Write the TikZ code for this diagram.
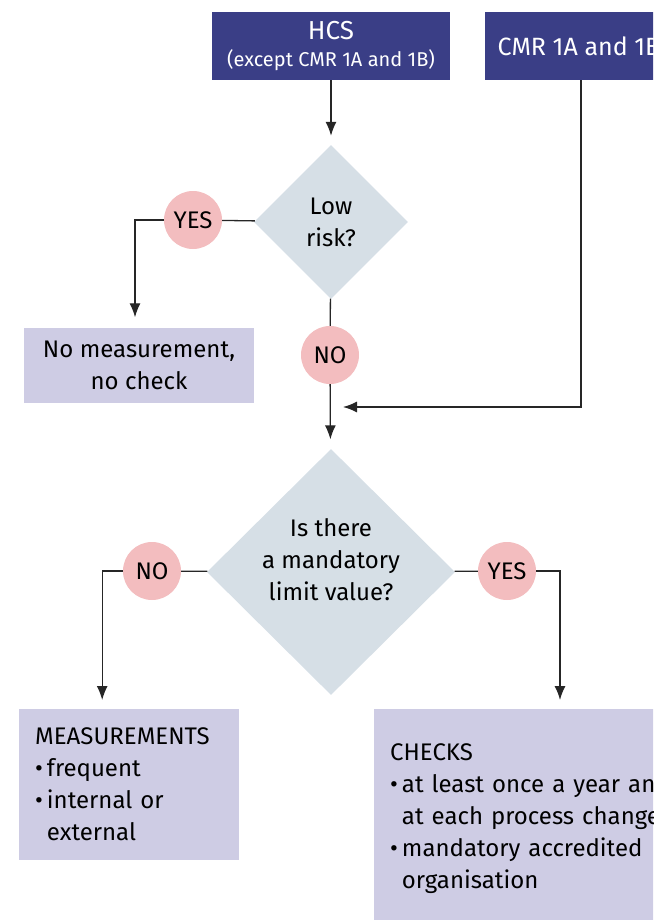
\documentclass[tikz,border=0pt]{standalone}
\usepackage{fontspec}
\setmainfont{Fira Sans}
\usetikzlibrary{shapes.geometric,arrows.meta}
\definecolor{hcsblue}{HTML}{3A3E86}
\definecolor{boxlilac}{HTML}{CECCE4}
\definecolor{decgrey}{HTML}{D6DFE6}
\definecolor{answerpink}{HTML}{F3BDBF}
\tikzset{
  topbox/.style={rectangle, fill=hcsblue, text=white, inner sep=0pt, align=center},
  resultbox/.style={rectangle, fill=boxlilac, inner sep=0pt, font=\fontsize{24}{32}\selectfont},
  decision/.style={diamond, fill=decgrey, inner sep=0pt, align=center, font=\fontsize{24}{32}\selectfont},
  answer/.style={circle, fill=answerpink, minimum size=58pt, inner sep=0pt, font=\fontsize{24}{26}\selectfont},
  flow/.style={line width=1.3pt, draw=black!85},
  flowarrow/.style={flow, -{Latex[length=14pt,width=11pt]}},
}
\begin{document}
\begin{tikzpicture}[x=1pt, y=-1pt]
  \clip (0,0) rectangle (653,920);
  % Nodes
  \node (HCS) [topbox, minimum width=238pt, minimum height=68pt, font=\fontsize{20}{27}\selectfont] at (331,46)
    {{\fontsize{26}{27}\selectfont HCS}\\(except CMR 1A and 1B)};
  \node (CMR) [topbox, minimum width=188pt, minimum height=68pt, font=\fontsize{25}{28}\selectfont] at (579,46) {CMR 1A and 1B};
  \node (lowrisk) [decision, minimum width=154pt, minimum height=154pt] at (331,222) {Low\\risk?};
  \node (yes1) [answer] at (193,220) {YES};
  \node (nomeas) [resultbox, minimum width=230pt, minimum height=75pt, align=center] at (139,365)
    {No measurement,\\no check};
  \node (no1) [answer] at (330,355) {NO};
  \coordinate (join) at (331,407);
  \node (limit) [decision, minimum width=248pt, minimum height=246pt, text depth=24pt] at (331,572)
    {Is there\\a mandatory\\limit value?};
  \node (no2) [answer] at (152,571) {NO};
  \node (yes2) [answer] at (507,571) {YES};
  \node (meas) [resultbox, anchor=north west, minimum width=220pt, minimum height=151pt, text width=188pt, inner xsep=16pt, align=left] at (19,709)
    {MEASUREMENTS\\\textbullet\,frequent\\\textbullet\,internal or\\\phantom{\textbullet\,}external};
  \node (checks) [resultbox, anchor=north west, minimum width=330pt, minimum height=218pt, text width=298pt, inner xsep=16pt, align=left] at (374,709)
    {CHECKS\\\textbullet\,at least once a year and\\\phantom{\textbullet\,}at each process change\\\textbullet\,mandatory accredited\\\phantom{\textbullet\,}organisation};
  % Arrows
  \draw[flowarrow, shorten >=9pt] (HCS) -- (lowrisk);
  \draw[flow] (lowrisk) -- (yes1);
  \draw[flowarrow, shorten >=10pt] (yes1.west) -| ([xshift=-4pt]nomeas.north);
  \draw[flow] (lowrisk) -- (no1);
  \draw[flowarrow, shorten >=10pt] (no1) -- (limit);
  \draw[flowarrow, shorten >=12pt] ([xshift=2pt]CMR.south) |- (join);
  \draw[flow] (limit) -- (no2);
  \draw[flowarrow, shorten >=9pt] (no2.west) -| ([xshift=-27pt]meas.north);
  \draw[flow] (limit) -- (yes2);
  \draw[flowarrow, shorten >=9pt] (yes2.east) -| ([xshift=186pt]checks.north west);
\end{tikzpicture}
\end{document}
